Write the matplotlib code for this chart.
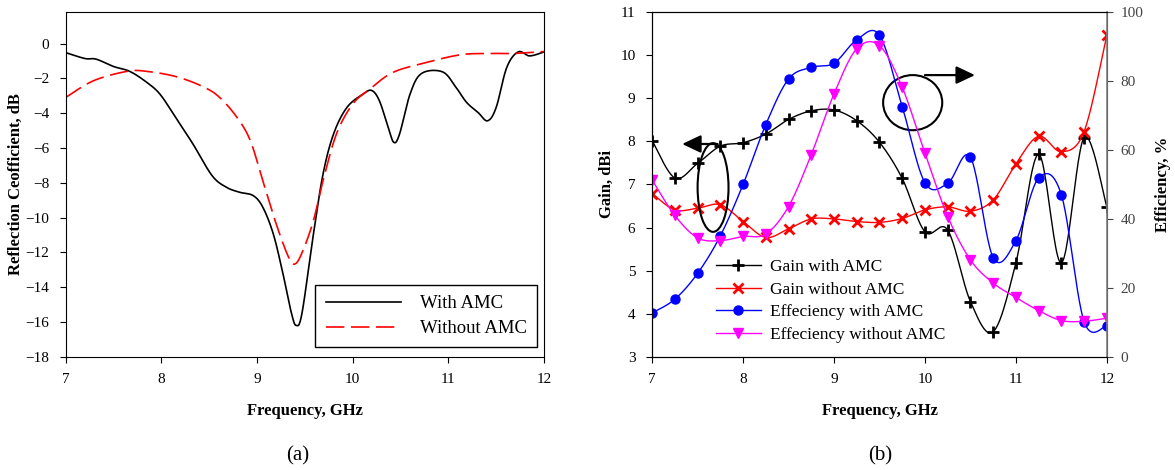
import numpy as np
import matplotlib
matplotlib.use('Agg')
import matplotlib.pyplot as plt
from matplotlib.patches import Ellipse, FancyArrowPatch

plt.rcParams['font.family'] = ['Liberation Serif', 'DejaVu Serif']
plt.rcParams['mathtext.fontset'] = 'stix'

f_with = [7.0, 7.2, 7.32, 7.5, 7.67, 7.85, 7.99, 8.16, 8.33, 8.53, 8.68, 8.82, 8.96, 9.06,
          9.17, 9.27, 9.36, 9.41, 9.47, 9.59, 9.69, 9.8, 9.94, 10.11, 10.2, 10.28, 10.37,
          10.43, 10.49, 10.6, 10.72, 10.94, 11.08, 11.19, 11.31, 11.41, 11.5, 11.61, 11.73,
          11.85, 12.0]
s11_with = [-0.52, -0.86, -0.9, -1.32, -1.6, -2.24, -2.94, -4.34, -5.77, -7.59, -8.26, -8.55,
            -8.74, -9.4, -10.94, -13.2, -15.5, -16.2, -15.5, -10.94, -7.5, -5.2, -3.67, -2.9,
            -2.7, -3.3, -4.8, -5.68, -5.2, -2.9, -1.72, -1.63, -2.52, -3.38, -3.96, -4.44,
            -3.67, -1.38, -0.48, -0.71, -0.48]
f_without = [7.0, 7.29, 7.64, 7.85, 8.16, 8.44, 8.61, 8.79, 8.93, 9.06, 9.2, 9.33, 9.4, 9.48,
             9.59, 9.69, 9.83, 10.0, 10.18, 10.42, 10.77, 11.12, 11.4, 11.68, 12.0]
s11_without = [-3.1, -2.14, -1.6, -1.6, -1.91, -2.49, -3.1, -4.24, -5.58, -7.88, -10.36,
               -12.28, -12.66, -11.9, -10.17, -7.88, -5.2, -3.48, -2.62, -1.66, -1.09, -0.65,
               -0.57, -0.57, -0.46]

# (b) Gewinn und Effizienz
freq = [7.0, 7.25, 7.5, 7.75, 8.0, 8.25, 8.5, 8.75, 9.0, 9.25, 9.5, 9.75, 10.0, 10.25, 10.5,
        10.75, 11.0, 11.25, 11.5, 11.75, 12.0]
gain_with = [8.02, 7.15, 7.49, 7.89, 7.97, 8.17, 8.51, 8.71, 8.73, 8.48, 7.98, 7.14, 5.90,
             5.94, 4.28, 3.58, 5.18, 7.70, 5.18, 8.09, 6.48]
gain_without = [6.79, 6.41, 6.45, 6.53, 6.14, 5.77, 5.97, 6.20, 6.20, 6.14, 6.12, 6.21, 6.41,
                6.48, 6.38, 6.64, 7.48, 8.12, 7.76, 8.23, 10.47]
eff_with = [12.7, 16.7, 24.2, 35.1, 50.0, 67.4, 80.6, 84.0, 85.2, 92.0, 93.3, 72.6, 50.5, 50.3,
            57.9, 28.8, 33.7, 51.9, 47.0, 10.2, 9.0]
eff_without = [51.3, 41.0, 34.5, 33.7, 34.9, 35.6, 43.6, 58.7, 76.3, 89.4, 90.3, 78.2, 59.1,
               40.7, 28.1, 21.4, 17.2, 13.4, 10.5, 10.3, 11.2]


def glatt(x, y, n=24):
    # Catmull-Rom Glättung wie bei Excel "geglättete Linien"
    p = np.column_stack([x, y]).astype(float)
    P = np.vstack([p[0], p, p[-1]])
    t = np.linspace(0, 1, n, endpoint=False)[:, None]
    teile = []
    for i in range(1, len(P) - 2):
        p0, p1, p2, p3 = P[i - 1], P[i], P[i + 1], P[i + 2]
        teile.append(0.5 * (2 * p1 + (-p0 + p2) * t + (2 * p0 - 5 * p1 + 4 * p2 - p3) * t ** 2
                            + (-p0 + 3 * p1 - 3 * p2 + p3) * t ** 3))
    teile.append(p[-1:])
    k = np.vstack(teile)
    return k[:, 0], k[:, 1]


fig = plt.figure(figsize=(11.75, 4.7), dpi=100)
ax1 = fig.add_axes([0.0559, 0.241, 0.4071, 0.733])
ax = fig.add_axes([0.555, 0.241, 0.387, 0.733])

fs = 11

# ---------- (a) ----------
x, y = glatt(f_with, s11_with)
ax1.plot(x, y, color='black', lw=1.2, label='With AMC')
x, y = glatt(f_without, s11_without)
ax1.plot(x, y, color='red', lw=1.2, dashes=(11, 4), label='Without AMC')
ax1.set_xlim(7, 12)
ax1.set_ylim(-18, 1.8)
ax1.set_yticks(range(-18, 1, 2))
ax1.set_xticks(range(7, 13))
ax1.tick_params(direction='out', length=4, labelsize=fs, top=False, right=False, pad=8)
ax1.set_xlabel('Frequency, GHz', fontsize=12, fontweight='bold', labelpad=12)
ax1.set_ylabel('Reflection Ceofficient, dB', fontsize=12, fontweight='bold', labelpad=1)
leg1 = ax1.legend(loc='lower right', bbox_to_anchor=(0.985, 0.027), fontsize=13.5,
                  handlelength=4.0, handletextpad=1.0, fancybox=False, edgecolor='black',
                  framealpha=1, borderpad=0.55, labelspacing=0.4, borderaxespad=0)
leg1.get_frame().set_linewidth(1.0)

# ---------- (b) ----------
ax2 = ax.twinx()
x, y = glatt(freq, gain_with)
l1, = ax.plot(x, y, color='black', lw=1)
m1, = ax.plot(freq, gain_with, ls='none', marker='+', ms=8, mew=2, color='black')
x, y = glatt(freq, gain_without)
l2, = ax.plot(x, y, color='red', lw=1)
m2, = ax.plot(freq, gain_without, ls='none', marker='x', ms=6.5, mew=2, color='red')
x, y = glatt(freq, eff_with)
l3, = ax2.plot(x, y, color='blue', lw=1)
m3, = ax2.plot(freq, eff_with, ls='none', marker='o', ms=6.5, color='blue')
x, y = glatt(freq, eff_without)
l4, = ax2.plot(x, y, color='magenta', lw=1)
m4, = ax2.plot(freq, eff_without, ls='none', marker='v', ms=7, color='magenta')

ax.set_xlim(7, 12)
ax.set_ylim(3, 11)
ax2.set_ylim(0, 100)
ax.set_xticks(range(7, 13))
ax.set_yticks(range(3, 12))
ax2.set_yticks(range(0, 101, 20))
ax.tick_params(direction='out', length=4, labelsize=fs, top=False, right=False, pad=8)
ax2.tick_params(direction='out', length=4, labelsize=fs, colors='#444444', pad=6)
ax2.spines['right'].set_color('#808080')
ax2.spines['right'].set_linewidth(1.2)
ax.set_xlabel('Frequency, GHz', fontsize=12, fontweight='bold', labelpad=12)
ax.set_ylabel('Gain, dBi', fontsize=12, fontweight='bold', labelpad=4)
ax2.set_ylabel('Efficiency, %', fontsize=12, fontweight='bold', labelpad=8)

# Ellipsen und Pfeile
ax.add_patch(Ellipse((7.67, 6.93), 0.34, 2.06, fill=False, lw=1.5, color='black', zorder=5))
ax.add_patch(Ellipse((9.865, 8.9), 0.65, 1.28, fill=False, lw=1.5, color='black', zorder=5))
stil = '-|>,head_length=0.95,head_width=0.45'
ax.add_patch(FancyArrowPatch((7.72, 7.94), (7.33, 7.94), arrowstyle=stil, mutation_scale=12,
                             lw=1.6, color='black', shrinkA=0, shrinkB=0, zorder=5))
ax.add_patch(FancyArrowPatch((10.0, 9.54), (10.55, 9.54), arrowstyle=stil, mutation_scale=12,
                             lw=1.6, color='black', shrinkA=0, shrinkB=0, zorder=5))
ax2.set_zorder(ax.get_zorder() + 1)
ax2.patch.set_visible(False)

ax2.legend([(l1, m1), (l2, m2), (l3, m3), (l4, m4)],
           ['Gain with AMC', 'Gain without AMC', 'Effeciency with AMC', 'Effeciency without AMC'],
           loc='lower left', bbox_to_anchor=(0.125, 0.02), frameon=False, fontsize=12.5,
           handlelength=2.6, handletextpad=0.5, labelspacing=0.37, borderaxespad=0)

fig.text(0.2535, 0.03, '(a)', fontsize=15, ha='center', va='center')
fig.text(0.749, 0.03, '(b)', fontsize=15, ha='center', va='center')

plt.savefig('out.png', dpi=100)
